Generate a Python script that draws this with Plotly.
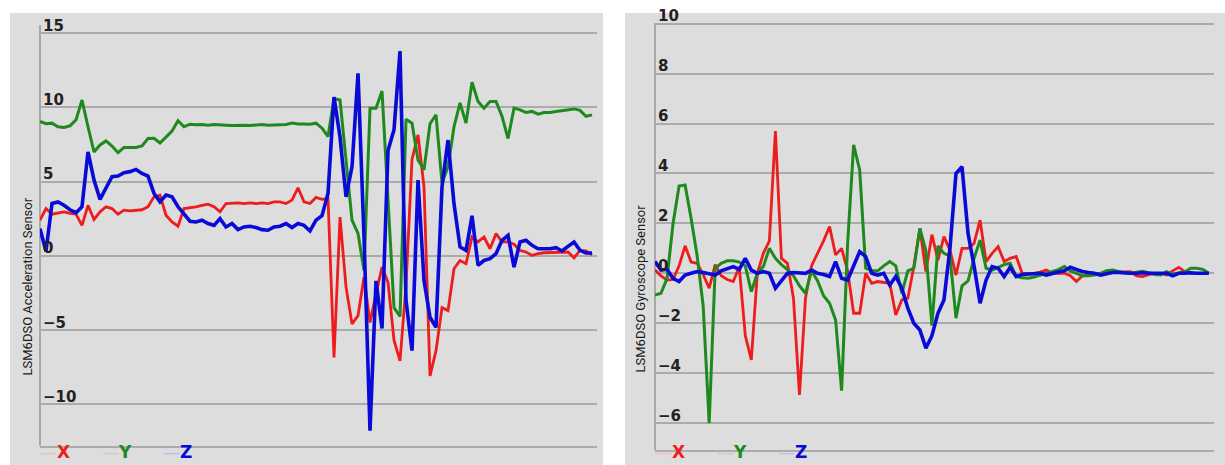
import plotly.graph_objects as go

# ---------------- data (sample index shared by all series) ----------------
acc_x = [2.4, 3.18, 2.8, 2.9, 2.96, 2.85, 2.8, 2.05, 3.4, 2.44,
         2.96, 3.3, 3.18, 2.8, 3.07, 3.02, 3.07, 3.1, 3.3, 3.97,
         4.08, 2.73, 2.28, 1.99, 3.18, 3.23, 3.3, 3.4, 3.48, 3.3,
         2.96, 3.52, 3.57, 3.57, 3.52, 3.57, 3.52, 3.57, 3.52, 3.63,
         3.63, 3.52, 3.75, 4.58, 3.63, 3.52, 3.93, 3.8, 3.86, -6.86,
         2.6, -2.1, -4.6, -4.04, -1.44, -4.5, -2.57, -0.77, -1.8, -5.7,
         -7.09, -2.0, 6.5, 8.15, 4.65, -8.1, -6.4, -3.5, -3.7, -0.88,
         -0.32, -0.54, 1.26, 0.93, 1.26, 0.47, 1.49, 0.93, 0.93, 0.77,
         0.36, 0.25, 0.02, 0.14, 0.2, 0.2, 0.25, 0.25, 0.25, -0.14,
         0.36, 0.32, 0.07]
acc_y = [9.05, 8.9, 8.94, 8.7, 8.65, 8.76, 9.16, 10.5, 8.7, 7.0,
         7.47, 7.74, 7.4, 6.95, 7.3, 7.3, 7.3, 7.4, 7.9, 7.92,
         7.6, 8.0, 8.4, 9.1, 8.7, 8.87, 8.83, 8.85, 8.8, 8.85,
         8.8, 8.8, 8.78, 8.8, 8.8, 8.78, 8.82, 8.85, 8.8, 8.82,
         8.88, 8.85, 8.95, 8.88, 8.88, 8.87, 8.94, 8.6, 8.04, 10.6,
         10.5, 6.45, 2.4, 1.5, -1.0, 9.95, 9.95, 11.1, 3.5, -3.5,
         -4.1, 9.2, 8.94, 6.45, 5.8, 8.9, 9.5, 4.9, 6.0, 8.7,
         10.3, 8.94, 11.7, 10.4, 9.95, 10.4, 10.4, 9.4, 7.9, 9.95,
         9.84, 9.66, 9.73, 9.55, 9.66, 9.66, 9.73, 9.8, 9.84, 9.9,
         9.8, 9.4, 9.5]
acc_z = [1.83, 0.3, 3.52, 3.63, 3.4, 3.1, 2.9, 3.3, 7.0, 5.1,
         3.8, 4.54, 5.33, 5.37, 5.6, 5.67, 5.82, 5.55, 5.37, 4.2,
         3.63, 4.09, 3.97, 3.3, 2.84, 2.33, 2.28, 2.39, 2.17, 2.05,
         2.5, 1.94, 2.17, 1.76, 1.94, 1.99, 1.9, 1.76, 1.72, 1.94,
         1.99, 2.17, 1.9, 2.17, 2.05, 1.67, 2.4, 2.7, 4.2, 10.7,
         8.0, 3.97, 6.0, 12.3, 1.26, -11.8, -1.7, -4.9, 7.1, 8.5,
         13.8, -3.0, -6.4, 5.1, -1.67, -4.15, -4.83, 4.65, 7.8, 3.5,
         0.59, 0.36, 2.7, -0.65, -0.32, -0.2, 0.14, 1.04, 1.38, -0.77,
         0.93, 1.04, 0.7, 0.47, 0.47, 0.47, 0.54, 0.32, 0.63, 0.93,
         0.36, 0.18, 0.18]

gyro_x = [0.13, -0.1, -0.27, -0.25, 0.3, 1.1, 0.45, 0.4, -0.05, -0.6,
          0.35, -0.1, -0.25, -0.33, 0.25, -2.5, -3.47, 0.0, 0.8, 1.3,
          5.7, 0.6, 0.4, -1.0, -4.87, -1.0, 0.3, 0.8, 1.3, 1.87,
          0.74, 1.0, 0.1, -1.6, -1.6, 0.0, -0.4, -0.33, -0.35, -0.4,
          -1.67, -1.07, -1.0, 0.27, 1.8, 0.07, 1.55, 0.53, 1.47, 0.93,
          -0.07, 1.0, 1.0, 1.2, 2.13, 0.47, 0.8, 1.07, 0.47, 0.6,
          0.67, 0.0, 0.0, 0.0, 0.05, 0.13, 0.0, 0.0, 0.0, -0.1,
          -0.33, -0.1, -0.07, 0.0, 0.0, 0.0, 0.05, 0.05, 0.07, 0.07,
          -0.1, -0.13, -0.05, 0.0, 0.0, -0.07, 0.1, 0.24, 0.07, 0.0,
          0.0, 0.0, 0.0]
gyro_y = [-0.87, -0.8, -0.2, 2.0, 3.5, 3.54, 2.2, 0.7, -1.3, -6.0,
          0.2, 0.4, 0.5, 0.5, 0.45, 0.3, -0.74, 0.0, 0.27, 1.0,
          0.6, 0.35, 0.15, -0.1, -0.5, -0.8, 0.1, -0.3, -0.9, -1.2,
          -1.87, -4.7, 1.2, 5.15, 4.14, 0.2, 0.1, 0.1, 0.3, 0.47,
          0.3, -0.8, 0.1, 0.2, 1.8, 0.9, -2.1, 1.1, 0.8, 0.7,
          -1.8, -0.5, -0.3, 0.6, 1.33, 0.2, 0.13, 0.25, 0.35, 0.4,
          -0.13, -0.18, -0.2, -0.15, -0.07, 0.0, 0.07, 0.15, 0.27, 0.1,
          0.0, -0.1, -0.1, -0.07, 0.0, 0.1, 0.13, 0.07, 0.02, 0.0,
          0.03, 0.08, 0.02, -0.05, -0.07, 0.07, -0.03, 0.0, 0.05, 0.2,
          0.2, 0.16, 0.0]
gyro_z = [0.47, 0.13, 0.16, -0.2, -0.33, -0.07, 0.0, 0.07, 0.03, -0.03,
          -0.07, 0.1, 0.2, 0.27, 0.16, 0.6, 0.13, 0.0, 0.07, 0.0,
          -0.6, -0.27, 0.0, 0.03, 0.02, 0.0, 0.13, 0.0, -0.05, -0.13,
          0.47, -0.2, -0.27, 0.27, 0.87, 0.67, 0.0, -0.07, 0.0, -0.47,
          -0.13, -0.6, -1.4, -2.0, -2.27, -3.0, -2.5, -1.6, -1.07, 1.0,
          4.0, 4.27, 1.6, 0.3, -1.2, -0.27, 0.27, 0.2, -0.13, 0.24,
          -0.13, -0.05, -0.03, 0.0, 0.0, -0.07, 0.0, 0.05, 0.1, 0.24,
          0.15, 0.07, 0.03, 0.0, -0.07, -0.03, 0.03, 0.03, 0.0, 0.0,
          0.0, 0.02, 0.0, 0.0, 0.0, 0.0, -0.1, 0.0, 0.0, 0.02,
          0.0, 0.0, 0.0]

series_names = ["X", "Y", "Z"]
series_colors = ["#ee1c1c", "#1e8a1e", "#0a0ad8"]
legend_line_colors = ["#f2b9b9", "#b9d6b9", "#b9b9ef"]
line_widths = [2.8, 3.0, 3.6]
acc_ticks = [-10, -5, 0, 5, 10, 15]
gyro_ticks = [-6, -4, -2, 0, 2, 4, 6, 8, 10]
acc_title = "LSM6DSO Acceleration Sensor"
gyro_title = "LSM6DSO Gyroscope Sensor"

W, H = 1225, 465
def px(x):
    return x / W
def py(y):
    return 1 - y / H

fig = go.Figure()
samples = list(range(len(acc_x)))
for i, ser in enumerate([acc_x, acc_y, acc_z]):
    fig.add_trace(go.Scatter(x=samples, y=ser, mode="lines", name=series_names[i],
                             line=dict(color=series_colors[i], width=line_widths[i]),
                             xaxis="x", yaxis="y", showlegend=False))
for i, ser in enumerate([gyro_x, gyro_y, gyro_z]):
    fig.add_trace(go.Scatter(x=samples, y=ser, mode="lines", name=series_names[i],
                             line=dict(color=series_colors[i], width=line_widths[i]),
                             xaxis="x2", yaxis="y2", showlegend=False))

tickfont = dict(family="DejaVu Sans", size=15, color="#222222", weight="bold")
common_y = dict(showgrid=True, gridcolor="#ababab", gridwidth=1.6, zeroline=False,
                showline=False, ticks="", ticklabelposition="inside top",
                ticklabeloverflow="allow", ticklabelshift=3, automargin=False,
                tickfont=tickfont, fixedrange=True)
common_x = dict(showgrid=False, zeroline=False, showticklabels=False, ticks="",
                showline=True, linecolor="#ababab", linewidth=1.6, automargin=False)

fig.update_layout(
    width=W, height=H,
    margin=dict(l=0, r=0, t=0, b=0, autoexpand=False),
    paper_bgcolor="white", plot_bgcolor="rgba(0,0,0,0)",
    showlegend=False,
    xaxis=dict(domain=[px(40), px(597)], range=[0, 92.83], anchor="y", **common_x),
    yaxis=dict(domain=[py(446), py(14)], range=[-12.83, 16.30], anchor="x",
               tickvals=acc_ticks, **common_y),
    xaxis2=dict(domain=[px(655), px(1214)], range=[0, 92.86], anchor="y2", **common_x),
    yaxis2=dict(domain=[py(450), py(14)], range=[-7.08, 10.39], anchor="x2",
                tickvals=gyro_ticks, **common_y),
)

# panel backgrounds
for x0, x1 in [(10, 603), (625, 1225)]:
    fig.add_shape(type="rect", xref="paper", yref="paper",
                  x0=px(x0), x1=px(x1), y0=0, y1=py(13),
                  fillcolor="#dddddd", line=dict(width=0), layer="below")

# vertical axis lines
for xl, yt, yb in [(40, 25, 446), (655, 23, 450)]:
    fig.add_shape(type="line", xref="paper", yref="paper",
                  x0=px(xl), x1=px(xl), y0=py(yb), y1=py(yt),
                  line=dict(color="#858585", width=1.2), layer="below")

# y-axis titles
title_font = dict(family="Roboto", size=13, color="#1a1a1a")
fig.add_annotation(x=px(26.5), y=py(287), xref="paper", yref="paper", text=acc_title,
                   textangle=-90, showarrow=False, xanchor="center", yanchor="middle",
                   font=title_font)
fig.add_annotation(x=px(639.5), y=py(289), xref="paper", yref="paper", text=gyro_title,
                   textangle=-90, showarrow=False, xanchor="center", yanchor="middle",
                   font=title_font)

# legends
for starts in [[38, 100, 161], [653, 715, 776]]:
    for i, x0 in enumerate(starts):
        txt = ("<span style='color:%s;font-weight:normal'>\u2014</span>"
               "<span style='color:%s'><b>%s</b></span>") % (
                   legend_line_colors[i], series_colors[i], series_names[i])
        fig.add_annotation(x=px(x0), y=py(464), xref="paper", yref="paper", text=txt,
                           showarrow=False, xanchor="left", yanchor="bottom",
                           font=dict(family="DejaVu Sans", size=17))

fig.write_html("out.html")
